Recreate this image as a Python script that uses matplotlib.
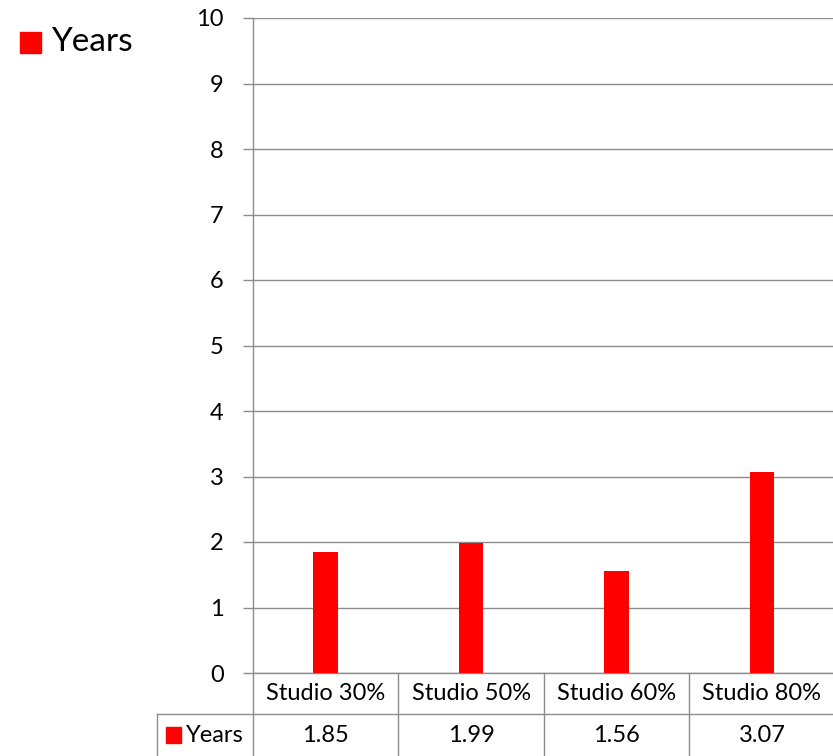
import matplotlib
matplotlib.use("Agg")
import matplotlib.pyplot as plt
from matplotlib.patches import Rectangle
from matplotlib.lines import Line2D

categories = ["Studio 30%", "Studio 50%", "Studio 60%", "Studio 80%"]
years = [1.85, 1.99, 1.56, 3.07]
value_labels = ["1.85", "1.99", "1.56", "3.07"]
series_name = "Years"
yticks = list(range(0, 11))

plt.rcParams['font.family'] = ['Lato', 'DejaVu Sans']

W, H = 833, 756
fig = plt.figure(figsize=(W / 100, H / 100), dpi=100)
ax = fig.add_axes([253 / W, 1 - 673 / H, (W - 253) / W + 0.002, (673 - 18) / H])

red = "#ff0000"
grey = "#8c8c8c"
fs = 17
x = list(range(len(categories)))
ax.bar(x, years, width=0.17, color=red, zorder=3)
ax.set_xlim(-0.5, len(categories) - 0.5)
ax.set_ylim(0, 10)
ax.set_yticks(yticks)
ax.set_yticklabels([str(t) for t in yticks], fontsize=fs)
ax.set_xticks([])
ax.grid(axis='y', color=grey, linewidth=1.0, zorder=0)
for s in ['top', 'right']:
    ax.spines[s].set_visible(False)
ax.spines['left'].set_color(grey)
ax.spines['bottom'].set_color(grey)
ax.spines['left'].set_linewidth(1.0)
ax.spines['bottom'].set_linewidth(1.0)
ax.tick_params(axis='y', length=7, width=1, color=grey, pad=14, labelcolor='black')

# Data table below the axes
row1_y = 1 - 694 / H
row2_y = 1 - 736 / H
sep_y = 1 - 714 / H
for i, (c, v) in enumerate(zip(categories, value_labels)):
    ax.annotate(c, xy=(i, 0), xycoords=('data', 'axes fraction'), xytext=(i, row1_y),
                textcoords=('data', 'figure fraction'), ha='center', va='center',
                fontsize=fs, annotation_clip=False)
    ax.annotate(v, xy=(i, 0), xycoords=('data', 'axes fraction'), xytext=(i, row2_y),
                textcoords=('data', 'figure fraction'), ha='center', va='center',
                fontsize=fs, annotation_clip=False)

# vertical grid lines of the table
ax_bottom_fig = 1 - 673 / H
for b in [k - 0.5 for k in range(len(categories) + 1)]:
    xf = fig.transFigure.inverted().transform(ax.transData.transform((b, 0)))[0]
    fig.add_artist(Line2D([xf, xf], [ax_bottom_fig, 0], color=grey, linewidth=1.0))
# horizontal separator
fig.add_artist(Line2D([157 / W, 1], [sep_y, sep_y], color=grey, linewidth=1.0))
# row header left border
fig.add_artist(Line2D([157 / W, 157 / W], [sep_y, 0], color=grey, linewidth=1.0))
# row header
fig.add_artist(Rectangle((166 / W, 1 - 743 / H), 15 / W, 16 / H, color=red,
                         transform=fig.transFigure))
fig.text(186 / W, row2_y, series_name, ha='left', va='center', fontsize=fs)

# legend at top left
fig.add_artist(Rectangle((20 / W, 1 - 53 / H), 21 / W, 21 / H, color=red,
                         transform=fig.transFigure))
fig.text(51 / W, 1 - 42 / H, series_name, ha='left', va='center', fontsize=24)

fig.savefig("out.png", dpi=100)
